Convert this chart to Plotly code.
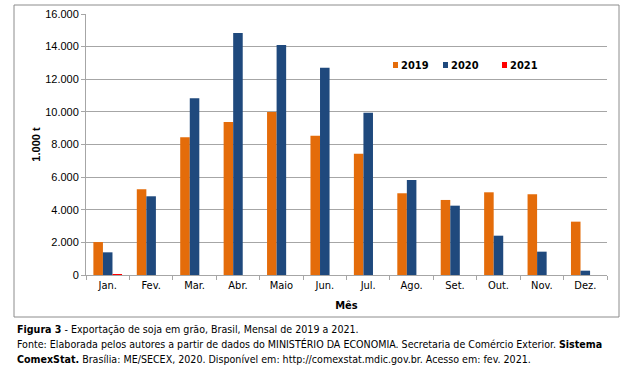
import plotly.graph_objects as go

months = ["Jan.", "Fev.", "Mar.", "Abr.", "Maio", "Jun.", "Jul.", "Ago.", "Set.", "Out.", "Nov.", "Dez."]
v2019 = [2020, 5250, 8440, 9380, 9990, 8540, 7440, 5010, 4600, 5070, 4950, 3270]
v2020 = [1390, 4825, 10830, 14840, 14100, 12710, 9950, 5825, 4250, 2410, 1430, 265]
v2021 = [60, None, None, None, None, None, None, None, None, None, None, None]
series_names = ["2019", "2020", "2021"]
y_ticks = [0, 2000, 4000, 6000, 8000, 10000, 12000, 14000, 16000]
y_tick_labels = ["0", "2.000", "4.000", "6.000", "8.000", "10.000", "12.000", "14.000", "16.000"]

ORANGE = "#E46C0A"
BLUE = "#1F497D"
RED = "#FF0000"
GRID = "#A6A6A6"
TXT_FONT = "DejaVu Sans Condensed, DejaVu Sans, sans-serif"
colors = [ORANGE, BLUE, RED]

L, R, T, B = 86, 607, 14, 275   # plot area in pixels
W, H = R - L, B - T


def px(x):
    return (x - L) / W


def py(y):
    return (B - y) / H


fig = go.Figure()
for name, vals, col in zip(series_names, [v2019, v2020, v2021], colors):
    fig.add_trace(go.Bar(x=months, y=vals, name=name, showlegend=False,
                         marker=dict(color=col, line=dict(width=0))))

fig.update_layout(
    width=634, height=379,
    margin=dict(l=L, r=634 - R, t=T, b=379 - B, autoexpand=False),
    paper_bgcolor="white", plot_bgcolor="white",
    barmode="group", bargap=0.34, bargroupgap=0,
    showlegend=False,
    xaxis=dict(
        type="category", showgrid=False, showline=True, linecolor=GRID, linewidth=1,
        ticks="outside", tickson="boundaries", ticklen=4, tickcolor=GRID, automargin=False,
        tickfont=dict(family=TXT_FONT, size=11, color="#000000"),
        title=dict(text="<b>Mês</b>", font=dict(family=TXT_FONT, size=11, color="#000000"), standoff=10),
    ),
    yaxis=dict(
        range=[0, 16000], tickvals=y_ticks, ticktext=y_tick_labels, automargin=False,
        showgrid=True, gridcolor=GRID, gridwidth=1,
        showline=True, linecolor=GRID, linewidth=1,
        ticks="outside", ticklen=4, tickcolor=GRID,
        tickfont=dict(family="Liberation Sans, Arial, sans-serif", size=11, color="#000000"),
        title=dict(text="<b>1.000 t</b>", font=dict(family="Liberation Sans, Arial, sans-serif", size=11, color="#000000"), standoff=2),
        zeroline=False,
    ),
)

# legend: small squares + bold labels
legend_marker_x = [393, 443, 502]
legend_y = 65
for name, col, mx in zip(series_names, colors, legend_marker_x):
    fig.add_shape(type="rect", xref="paper", yref="paper",
                  x0=px(mx), x1=px(mx + 5), y0=py(legend_y + 3), y1=py(legend_y - 3),
                  line=dict(width=0), fillcolor=col)
    fig.add_annotation(text="<b>%s</b>" % name, xref="paper", yref="paper",
                       x=px(mx + 6), y=py(legend_y), xanchor="left", yanchor="middle",
                       showarrow=False, font=dict(family=TXT_FONT, size=11, color="#000000"))

# outer chart border
fig.add_shape(type="rect", xref="paper", yref="paper",
              x0=px(14), x1=px(619), y0=py(317), y1=py(5),
              line=dict(color="#8C8C8C", width=1), fillcolor="rgba(0,0,0,0)", layer="below")

captions = [
    "<b>Figura 3</b> - Exportação de soja em grão, Brasil, Mensal de 2019 a 2021.",
    "Fonte: Elaborada pelos autores a partir de dados do MINISTÉRIO DA ECONOMIA. Secretaria de Comércio Exterior. <b>Sistema</b>",
    "<b>ComexStat.</b> Brasília: ME/SECEX, 2020. Disponível em: http://comexstat.mdic.gov.br. Acesso em: fev. 2021.",
]
cap_y = [329, 344, 359]
for txt, yy in zip(captions, cap_y):
    fig.add_annotation(text=txt, xref="paper", yref="paper",
                       x=px(15), y=py(yy),
                       xanchor="left", yanchor="middle", showarrow=False,
                       font=dict(family=TXT_FONT, size=10.6, color="#000000"))

fig.write_html("out.html", config={"displayModeBar": False},
               post_script="document.body.style.margin='0';document.body.style.overflow='hidden';")
